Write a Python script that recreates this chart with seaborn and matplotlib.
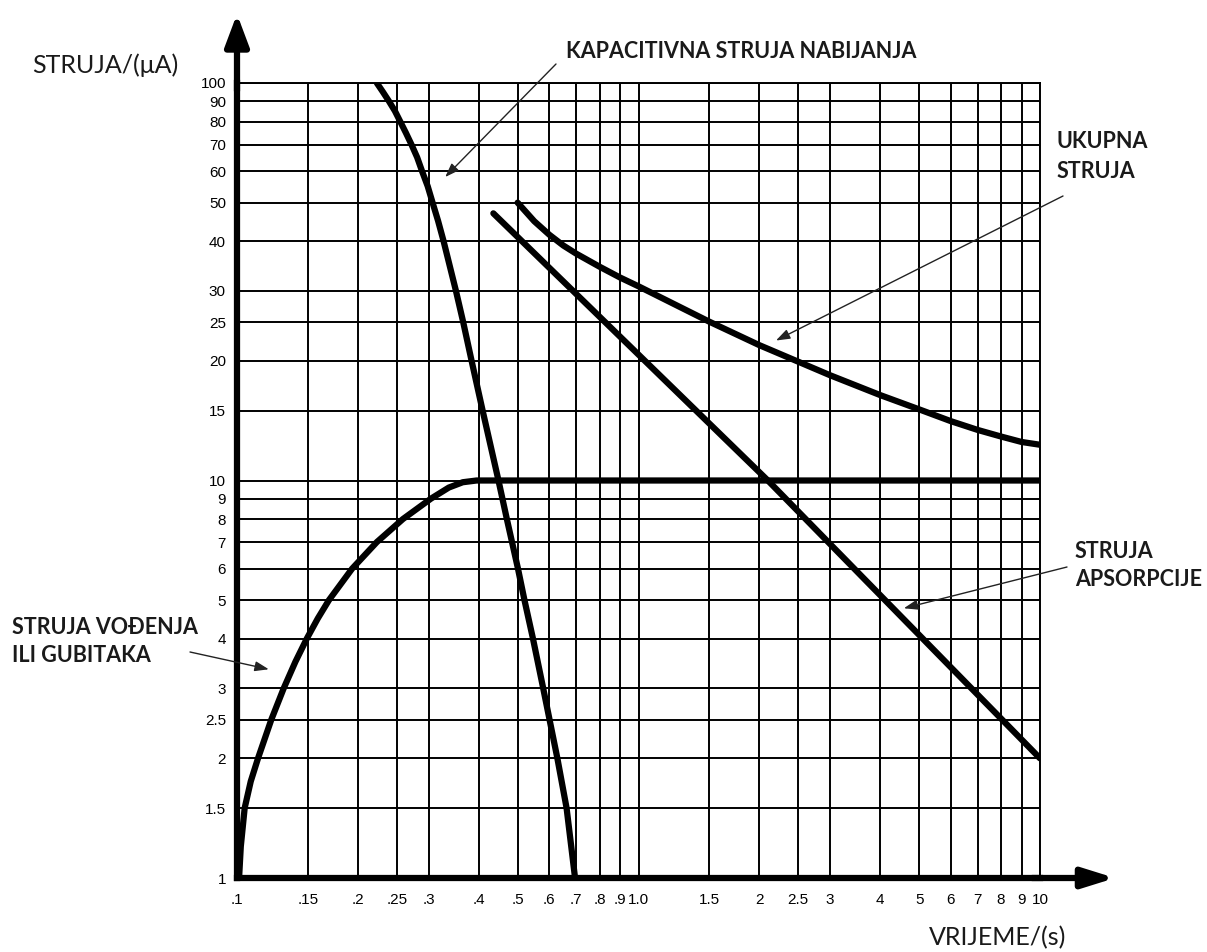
import numpy as np
import pandas as pd
import matplotlib
matplotlib.use("Agg")
import matplotlib.pyplot as plt
from matplotlib.ticker import NullLocator, FixedLocator, FixedFormatter
import seaborn as sns

# ---------------- data ----------------
x_ticks = [0.1, 0.15, 0.2, 0.25, 0.3, 0.4, 0.5, 0.6, 0.7, 0.8, 0.9, 1.0,
           1.5, 2, 2.5, 3, 4, 5, 6, 7, 8, 9, 10]
x_tick_labels = [".1", ".15", ".2", ".25", ".3", ".4", ".5", ".6", ".7", ".8",
                 ".9", "1.0", "1.5", "2", "2.5", "3", "4", "5", "6", "7", "8",
                 "9", "10"]
y_ticks = [1, 1.5, 2, 2.5, 3, 4, 5, 6, 7, 8, 9, 10, 15, 20, 25, 30, 40, 50,
           60, 70, 80, 90, 100]
y_tick_labels = ["1", "1.5", "2", "2.5", "3", "4", "5", "6", "7", "8", "9",
                 "10", "15", "20", "25", "30", "40", "50", "60", "70", "80",
                 "90", "100"]

# capacitive charging current
cap_x = [0.223, 0.2308, 0.239, 0.2474, 0.255, 0.2633, 0.272, 0.281, 0.289,
         0.2985, 0.307, 0.3168, 0.327, 0.351, 0.366, 0.384, 0.409, 0.448,
         0.470, 0.501, 0.520, 0.546, 0.579, 0.628, 0.662, 0.695]
cap_y = [100, 95, 90, 85, 80, 75, 70, 65, 60,
         55, 50, 45, 40, 30, 25, 20, 15, 10,
         8, 6, 5, 4, 3, 2, 1.5, 1.0]

# conduction / leakage current
cond_x = [0.1012, 0.1022, 0.1045, 0.1082, 0.1128, 0.1217, 0.1307, 0.1398,
          0.1492, 0.1590, 0.1694, 0.1935, 0.2230, 0.2590, 0.3040, 0.3370,
          0.3650, 0.395, 10]
cond_y = [1.0, 1.2, 1.5, 1.75, 2, 2.5, 3, 3.5,
          4, 4.5, 5, 6, 7, 8, 9, 9.6,
          9.9, 10, 10]

# absorption current
abs_x = [0.435, 2.1, 10]
abs_y = [47, 10, 2]

# total current
tot_x = [0.5, 0.55, 0.6, 0.65, 0.7, 0.8, 0.9, 1.0, 1.5, 2, 2.5, 3, 4, 5, 6,
         7, 8, 9, 10]
tot_y = [50, 44.9, 41.5, 39.0, 37.2, 34.5, 32.4, 30.8, 25.1, 21.9, 19.9, 18.4,
         16.4, 15.1, 14.1, 13.4, 12.9, 12.5, 12.3]

series = {
    "KAPACITIVNA STRUJA NABIJANJA": (cap_x, cap_y),
    "STRUJA VOĐENJA ILI GUBITAKA": (cond_x, cond_y),
    "STRUJA APSORPCIJE": (abs_x, abs_y),
    "UKUPNA STRUJA": (tot_x, tot_y),
}
frames = []
for name, (xs, ys) in series.items():
    frames.append(pd.DataFrame({"t": xs, "i": ys, "s": name}))
df = pd.concat(frames, ignore_index=True)

# ---------------- figure ----------------
sns.set_theme(style="white")
plt.rcParams["font.family"] = ["Liberation Sans", "DejaVu Sans"]

W, H = 1207, 952
fig = plt.figure(figsize=(W / 100, H / 100), dpi=100)
L, R, T, B = 237, 1040, 83, 878
ax = fig.add_axes([L / W, 1 - B / H, (R - L) / W, (B - T) / H])

ax.set_xscale("log")
ax.set_yscale("log")
ax.set_xlim(0.1, 10)
ax.set_ylim(1, 100)

for name in series:
    sub = df[df["s"] == name]
    sns.lineplot(data=sub, x="t", y="i", ax=ax, color="black", lw=4.5,
                 estimator=None, sort=False, legend=False,
                 solid_capstyle="round", solid_joinstyle="round", zorder=5)

ax.xaxis.set_major_locator(FixedLocator(x_ticks))
ax.xaxis.set_major_formatter(FixedFormatter(x_tick_labels))
ax.yaxis.set_major_locator(FixedLocator(y_ticks))
ax.yaxis.set_major_formatter(FixedFormatter(y_tick_labels))
ax.xaxis.set_minor_locator(NullLocator())
ax.yaxis.set_minor_locator(NullLocator())
ax.grid(True, which="major", color="black", lw=1.4)
ax.tick_params(axis="both", length=0, labelsize=11, colors="black")
ax.tick_params(axis="x", pad=11)
ax.tick_params(axis="y", pad=8)
ax.set_xlabel("")
ax.set_ylabel("")

for side in ["top", "right"]:
    ax.spines[side].set_linewidth(1.4)
    ax.spines[side].set_color("black")
for side in ["left", "bottom"]:
    ax.spines[side].set_linewidth(4.5)
    ax.spines[side].set_color("black")

# axis arrows
ax.annotate("", xy=(0, (B - 14) / (B - T)), xytext=(0, 0.99),
            xycoords="axes fraction", textcoords="axes fraction",
            arrowprops=dict(arrowstyle="-|>,head_length=1.6,head_width=0.6",
                            lw=4.5, color="black", shrinkA=0, shrinkB=0),
            annotation_clip=False)
ax.annotate("", xy=((1115 - L) / (R - L), 0), xytext=(0.99, 0),
            xycoords="axes fraction", textcoords="axes fraction",
            arrowprops=dict(arrowstyle="-|>,head_length=1.6,head_width=0.5",
                            lw=4.5, color="black", shrinkA=0, shrinkB=0),
            annotation_clip=False)

def fp(x, y):
    return (x / W, 1 - y / H)

txt_color = "#1a1a1a"
bold = dict(fontfamily=["Lato", "DejaVu Sans"], fontweight="bold",
            fontsize=15.5, color=txt_color)

fig.text(*fp(566, 52), "KAPACITIVNA STRUJA NABIJANJA", va="center", ha="left", **bold)
fig.text(*fp(1057, 142), "UKUPNA", va="center", ha="left", **bold)
fig.text(*fp(1057, 172), "STRUJA", va="center", ha="left", **bold)
fig.text(*fp(1075, 551), "STRUJA", va="center", ha="left", **bold)
fig.text(*fp(1075, 580), "APSORPCIJE", va="center", ha="left", **bold)
fig.text(*fp(12, 627), "STRUJA VOĐENJA", va="center", ha="left", **bold)
fig.text(*fp(12, 655), "ILI GUBITAKA", va="center", ha="left", **bold)

norm = dict(fontfamily=["Lato", "DejaVu Sans"], fontsize=18, color=txt_color)
fig.text(*fp(32, 65), "STRUJA/(μA)", va="center", ha="left", **norm)
fig.text(*fp(929, 938), "VRIJEME/(s)", va="center", ha="left", **norm)

arrow_kw = dict(arrowstyle="-|>,head_length=0.7,head_width=0.25", lw=1.0,
                color="#222222", shrinkA=0, shrinkB=0)
ax.annotate("", xy=(0.33, 58), xycoords="data", xytext=fp(556, 64),
            textcoords="figure fraction", arrowprops=arrow_kw, annotation_clip=False)
ax.annotate("", xy=(2.2, 22.5), xycoords="data", xytext=fp(1063, 196),
            textcoords="figure fraction", arrowprops=arrow_kw, annotation_clip=False)
ax.annotate("", xy=(4.58, 4.77), xycoords="data", xytext=fp(1067, 567),
            textcoords="figure fraction", arrowprops=arrow_kw, annotation_clip=False)
ax.annotate("", xy=(0.12, 3.35), xycoords="data", xytext=fp(190, 652),
            textcoords="figure fraction", arrowprops=arrow_kw, annotation_clip=False)

fig.savefig("out.png", dpi=100, facecolor="white")
